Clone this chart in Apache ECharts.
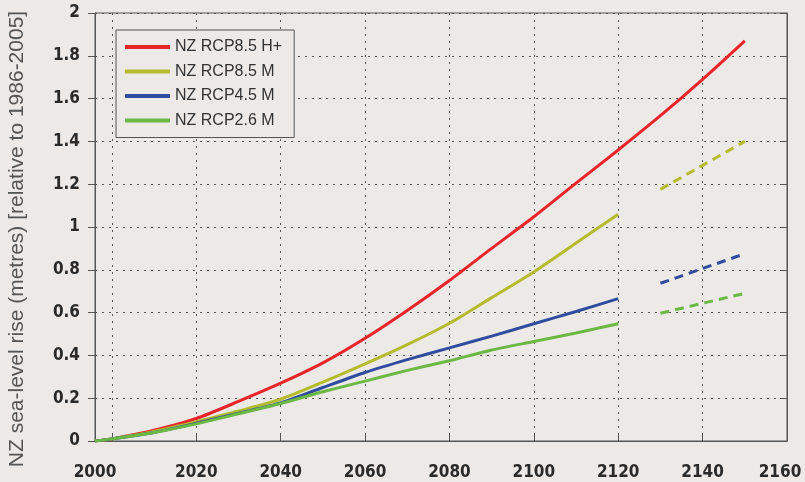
<!DOCTYPE html>
<html>
<head>
<meta charset="utf-8">
<script src="https://cdn.jsdelivr.net/npm/echarts@6/dist/echarts.min.js"></script>
<style>
html,body{margin:0;padding:0;background:#ECE9E7;}
#chart{width:805px;height:482px;}
</style>
</head>
<body>
<div id="chart"></div>
<script>
// ---- data ----
const years = [1996, 2000, 2010, 2020, 2030, 2040, 2050, 2060, 2070, 2080, 2090, 2100, 2110, 2120];
const redYears = [1996, 2000, 2010, 2020, 2030, 2040, 2050, 2060, 2070, 2080, 2090, 2100, 2110, 2120, 2130, 2140, 2150];
const rcp85Hplus = [0, 0.01, 0.05, 0.105, 0.185, 0.27, 0.365, 0.48, 0.61, 0.75, 0.90, 1.048, 1.205, 1.36, 1.52, 1.69, 1.87];
const rcp85M = [0, 0.01, 0.045, 0.09, 0.14, 0.195, 0.275, 0.36, 0.45, 0.55, 0.67, 0.79, 0.925, 1.06];
const rcp45M = [0, 0.01, 0.04, 0.083, 0.13, 0.178, 0.25, 0.32, 0.38, 0.435, 0.49, 0.548, 0.605, 0.665];
const rcp26M = [0, 0.01, 0.04, 0.08, 0.127, 0.175, 0.23, 0.28, 0.33, 0.375, 0.425, 0.465, 0.505, 0.548];
const extYears = [2130, 2150];
const rcp85MExt = [1.176, 1.40];
const rcp45MExt = [0.737, 0.875];
const rcp26MExt = [0.597, 0.69];
const seriesNames = ['NZ RCP8.5 H+', 'NZ RCP8.5 M', 'NZ RCP4.5 M', 'NZ RCP2.6 M'];
const xTickValues = [2000, 2020, 2040, 2060, 2080, 2100, 2120, 2140];
const xLabelValues = [1996, 2020, 2040, 2060, 2080, 2100, 2120, 2140, 2160];
const xLabelTexts = ['2000', '2020', '2040', '2060', '2080', '2100', '2120', '2140', '2160'];
const yAxisTitle = 'NZ sea-level rise (metres) [relative to 1986-2005]';

const colors = ['#E8242B', '#B4BC2E', '#2F4C9E', '#6BB844'];
const pair = (xs, ys) => xs.map((x, i) => [x, ys[i]]);

const labelFont = "'Liberation Sans Narrow', 'DejaVu Sans Condensed', 'Roboto', sans-serif";
const gridLine = { show: true, lineStyle: { color: '#555', type: [2, 5], width: 1 } };

function solid(name, data, color) {
  return { name, type: 'line', data, smooth: 0.25, symbol: 'none',
    lineStyle: { color, width: 3 }, itemStyle: { color }, z: 3 };
}
function dashed(name, data, color) {
  return { name, type: 'line', data, symbol: 'none',
    lineStyle: { color, width: 3, type: [9, 6] }, itemStyle: { color }, z: 3 };
}

const xLabelStyle = { fontFamily: labelFont, fontWeight: 'bold', fontSize: 17, color: '#2a2a2a' };

const chart = echarts.init(document.getElementById('chart'), null, { renderer: 'canvas' });
chart.setOption({
  backgroundColor: '#ECE9E7',
  animation: false,
  grid: { left: 95, right: 18, top: 13, bottom: 41, show: true, borderColor: '#555', borderWidth: 1,
    backgroundColor: 'transparent', containLabel: false, outerBoundsMode: 'none' },
  legend: {
    orient: 'vertical', left: 116, top: 30,
    padding: [8, 12, 8, 9],
    borderColor: '#555', borderWidth: 1, backgroundColor: '#ECE9E7',
    itemWidth: 45, itemHeight: 4, itemGap: 6.5, icon: 'rect',
    textStyle: { fontFamily: "'Liberation Sans', Arial, sans-serif", fontSize: 16, color: '#333', lineHeight: 18 },
    data: seriesNames
  },
  xAxis: {
    type: 'value', min: 1996, max: 2160,
    axisLine: { show: true, lineStyle: { color: '#555', width: 1 } },
    axisTick: { show: true, inside: true, length: 7, customValues: xTickValues, lineStyle: { color: '#555' } },
    axisLabel: Object.assign({
      customValues: xLabelValues, margin: 23,
      formatter: v => {
        const t = xLabelTexts[xLabelValues.indexOf(v)];
        return v === xLabelValues[xLabelValues.length - 1] ? '{last|' + t + '}' : t;
      },
      rich: { last: Object.assign({ padding: [0, 14, 0, 0] }, xLabelStyle) }
    }, xLabelStyle),
    splitLine: gridLine
  },
  yAxis: [{
    type: 'value', min: 0, max: 2, interval: 0.2,
    name: yAxisTitle, nameLocation: 'middle', nameRotate: 90, nameGap: 67,
    nameTextStyle: { fontFamily: "'Liberation Sans', Arial, sans-serif", fontSize: 21, color: '#555', padding: [0, 24, 0, 0] },
    axisLine: { show: true, lineStyle: { color: '#555' } },
    axisTick: { show: true, inside: false, length: 7, lineStyle: { color: '#555' } },
    axisLabel: { margin: 15, fontFamily: labelFont, fontWeight: 'bold', fontSize: 17, color: '#2a2a2a' },
    splitLine: gridLine
  }, {
    type: 'value', min: 0, max: 2, interval: 0.2, position: 'right',
    axisLine: { show: true, lineStyle: { color: '#555' } },
    axisTick: { show: true, inside: true, length: 7, lineStyle: { color: '#555' } },
    axisLabel: { show: false }, splitLine: { show: false }
  }],
  series: [
    solid(seriesNames[0], pair(redYears, rcp85Hplus), colors[0]),
    solid(seriesNames[1], pair(years, rcp85M), colors[1]),
    solid(seriesNames[2], pair(years, rcp45M), colors[2]),
    solid(seriesNames[3], pair(years, rcp26M), colors[3]),
    dashed(seriesNames[1], pair(extYears, rcp85MExt), colors[1]),
    dashed(seriesNames[2], pair(extYears, rcp45MExt), colors[2]),
    dashed(seriesNames[3], pair(extYears, rcp26MExt), colors[3])
  ]
});
</script>
</body>
</html>
